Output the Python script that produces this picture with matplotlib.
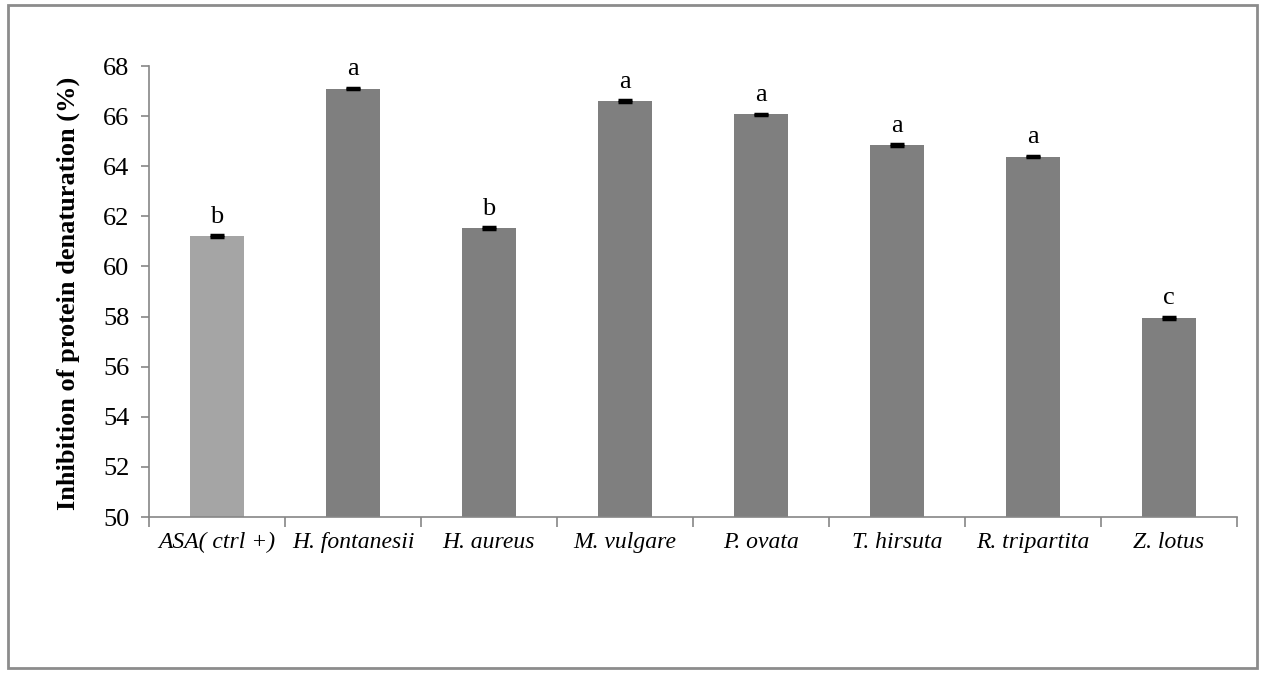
import matplotlib.pyplot as plt
import numpy as np
from matplotlib.patches import Rectangle
from matplotlib.ticker import FixedLocator, NullFormatter

categories = ["ASA( ctrl +)", "H. fontanesii", "H. aureus", "M. vulgare",
              "P. ovata", "T. hirsuta", "R. tripartita", "Z. lotus"]
values = [61.22, 67.10, 61.54, 66.60, 66.07, 64.85, 64.38, 57.95]
errors = [0.03, 0.03, 0.03, 0.03, 0.03, 0.03, 0.03, 0.03]
letters = ["b", "a", "b", "a", "a", "a", "a", "c"]
colors = ["#a5a5a5"] + ["#7f7f7f"] * 7

serif = ["Liberation Serif", "DejaVu Serif"]
plt.rcParams["font.family"] = serif

fig = plt.figure(figsize=(12.61, 6.73), dpi=100)
ax = fig.add_axes([149 / 1261, 156 / 673, 1088 / 1261, 451 / 673])

x = np.arange(len(categories))
ax.bar(x, np.array(values) - 50, bottom=50, width=0.4, color=colors, zorder=2)
ax.errorbar(x, values, yerr=errors, fmt="none", ecolor="black",
            elinewidth=1.2, capsize=5, capthick=2.5, zorder=3)

for xi, v, lab in zip(x, values, letters):
    ax.annotate(lab, (xi, v), xytext=(0, 6), textcoords="offset points",
                ha="center", va="bottom", fontsize=19)

ax.set_xlim(-0.5, len(categories) - 0.5)
ax.set_ylim(50, 68)
ax.set_yticks(np.arange(50, 69, 2))
ax.set_xticks(x)
ax.set_xticklabels(categories, fontsize=17, style="italic")
ax.xaxis.set_minor_locator(FixedLocator(np.arange(-0.5, len(categories), 1)))
ax.xaxis.set_minor_formatter(NullFormatter())
ax.tick_params(axis="x", which="major", length=0, pad=11)
ax.tick_params(axis="x", which="minor", length=7, color="#868686", width=1.2)
ax.tick_params(axis="y", labelsize=19, length=6, color="#868686", width=1.2, pad=8)

for side in ("top", "right"):
    ax.spines[side].set_visible(False)
for side in ("left", "bottom"):
    ax.spines[side].set_color("#868686")
    ax.spines[side].set_linewidth(1.2)

ax.set_ylabel("Inhibition of protein denaturation (%)", fontsize=19,
              fontweight="bold")
ax.yaxis.set_label_coords(-(149 - 80) / 1088, 0.495)

# outer frame around the whole figure
fig.patches.append(Rectangle((8 / 1261, 5 / 673), 1249 / 1261, 663 / 673,
                             transform=fig.transFigure, fill=False,
                             edgecolor="#8c8c8c", linewidth=2))

fig.savefig("out.png", dpi=100)
